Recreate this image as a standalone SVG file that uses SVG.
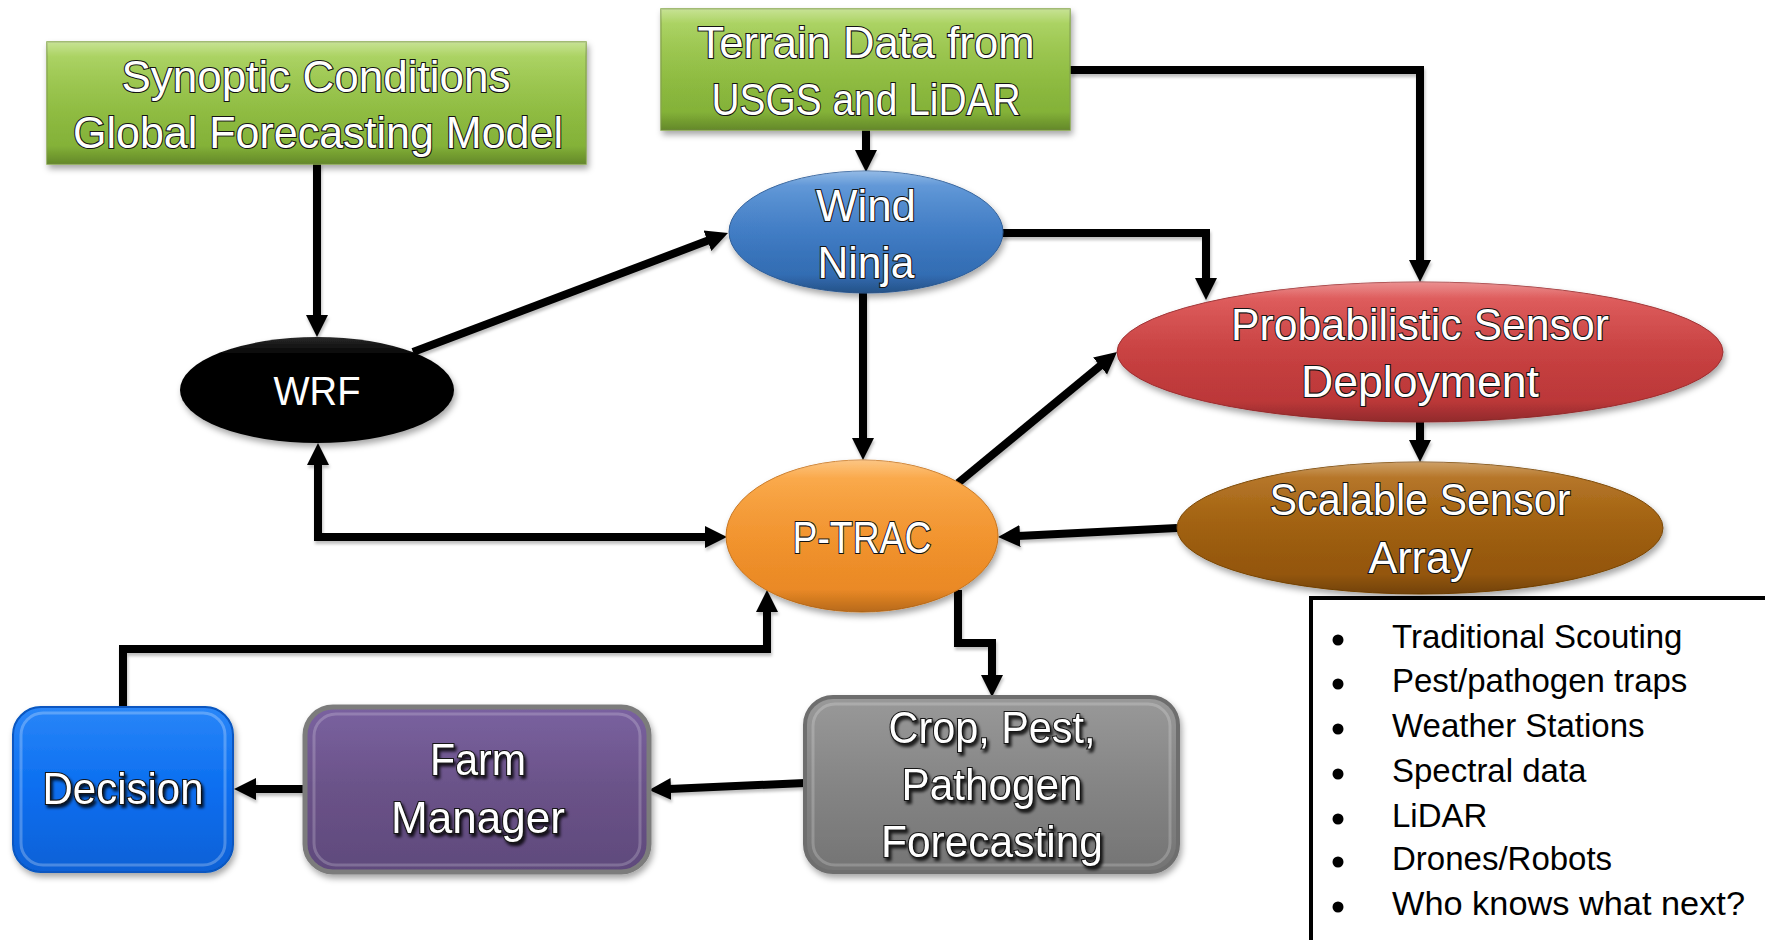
<svg xmlns="http://www.w3.org/2000/svg" width="1765" height="940" viewBox="0 0 1765 940">
  <defs>
    <style>
      .lbl { font-family: "Liberation Sans", Arial, sans-serif; font-size: 45px; fill: #ffffff; stroke: #141414; stroke-width: 2.2px; paint-order: stroke; text-anchor: middle; }
      .plain { font-family: "Liberation Sans", Arial, sans-serif; font-size: 41px; fill: #ffffff; text-anchor: middle; }
      .item { font-family: "Liberation Sans", Arial, sans-serif; font-size: 33px; fill: #000000; }
      .wire { fill: none; stroke: #000000; stroke-width: 8; stroke-linejoin: miter; stroke-linecap: butt; }
      .arrow { marker-end: url(#head); }
      .both { marker-start: url(#head); marker-end: url(#head); }
    </style>
    <marker id="head" markerUnits="userSpaceOnUse" markerWidth="24" markerHeight="24" viewBox="0 -12 24 24" refX="2" refY="0" orient="auto-start-reverse">
      <path d="M0,-11 L22,0 L0,11 z" fill="#000000"/>
    </marker>
    <filter id="shadow" x="-10%" y="-10%" width="125%" height="130%">
      <feDropShadow dx="2" dy="4" stdDeviation="3" flood-color="#000000" flood-opacity="0.35"/>
    </filter>
    <filter id="wireShadow" x="-5%" y="-5%" width="110%" height="115%">
      <feDropShadow dx="1" dy="3" stdDeviation="1.5" flood-color="#000000" flood-opacity="0.25"/>
    </filter>
    <filter id="textShadow" x="-10%" y="-20%" width="120%" height="150%">
      <feDropShadow dx="2" dy="3" stdDeviation="1.5" flood-color="#000000" flood-opacity="0.8"/>
    </filter>
    <linearGradient id="gGreen" x1="0" y1="0" x2="0" y2="1">
      <stop offset="0" stop-color="#a9d35b"/>
      <stop offset="0.5" stop-color="#94c244"/>
      <stop offset="1" stop-color="#7dab33"/>
    </linearGradient>
    <linearGradient id="gBlue" x1="0" y1="0" x2="0" y2="1">
      <stop offset="0" stop-color="#5a95d8"/>
      <stop offset="0.5" stop-color="#3f7dc8"/>
      <stop offset="1" stop-color="#2d66aa"/>
    </linearGradient>
    <linearGradient id="gBlack" x1="0" y1="0" x2="0" y2="1">
      <stop offset="0" stop-color="#2a2a2a"/>
      <stop offset="0.15" stop-color="#060606"/>
      <stop offset="1" stop-color="#000000"/>
    </linearGradient>
    <linearGradient id="gRed" x1="0" y1="0" x2="0" y2="1">
      <stop offset="0" stop-color="#e05454"/>
      <stop offset="0.5" stop-color="#cc4040"/>
      <stop offset="1" stop-color="#b53436"/>
    </linearGradient>
    <linearGradient id="gOrange" x1="0" y1="0" x2="0" y2="1">
      <stop offset="0" stop-color="#fba640"/>
      <stop offset="0.5" stop-color="#f7962d"/>
      <stop offset="1" stop-color="#e58422"/>
    </linearGradient>
    <linearGradient id="gBrown" x1="0" y1="0" x2="0" y2="1">
      <stop offset="0" stop-color="#b46e18"/>
      <stop offset="0.5" stop-color="#a2600c"/>
      <stop offset="1" stop-color="#8e5208"/>
    </linearGradient>
    <linearGradient id="gDecision" x1="0" y1="0" x2="0" y2="1">
      <stop offset="0" stop-color="#2a86f8"/>
      <stop offset="0.5" stop-color="#0a6ef0"/>
      <stop offset="1" stop-color="#0861d6"/>
    </linearGradient>
    <linearGradient id="gPurple" x1="0" y1="0" x2="0" y2="1">
      <stop offset="0" stop-color="#7a62a0"/>
      <stop offset="0.5" stop-color="#6a5288"/>
      <stop offset="1" stop-color="#5f4a7c"/>
    </linearGradient>
    <linearGradient id="gGrey" x1="0" y1="0" x2="0" y2="1">
      <stop offset="0" stop-color="#999999"/>
      <stop offset="0.5" stop-color="#858585"/>
      <stop offset="1" stop-color="#747474"/>
    </linearGradient>
    <linearGradient id="sheen" x1="0" y1="0" x2="0" y2="1">
      <stop offset="0" stop-color="#ffffff" stop-opacity="0.35"/>
      <stop offset="0.12" stop-color="#ffffff" stop-opacity="0.08"/>
      <stop offset="0.85" stop-color="#000000" stop-opacity="0"/>
      <stop offset="1" stop-color="#000000" stop-opacity="0.2"/>
    </linearGradient>
  </defs>

  <rect x="0" y="0" width="1765" height="940" fill="#ffffff"/>

  <!-- connectors -->
  <g id="connectors" filter="url(#wireShadow)">
    <path class="wire arrow" d="M317,163 V317"/>
    <path class="wire arrow" d="M866,130 V152"/>
    <path class="wire arrow" d="M1070,70 H1420 V262"/>
    <path class="wire arrow" d="M413,352 L709.3,240.1"/>
    <path class="wire arrow" d="M1002,233 H1206 V280"/>
    <path class="wire arrow" d="M863,293 V440"/>
    <path class="wire arrow" d="M958,483 L1101.6,364.7"/>
    <path class="wire arrow" d="M1420,422 V442"/>
    <path class="wire arrow" d="M1177,528 L1018,536"/>
    <path class="wire both" d="M318,463 V537 H707"/>
    <path class="wire arrow" d="M123,708 V649 H767 V610"/>
    <path class="wire arrow" d="M958,590 V643 H992 V677"/>
    <path class="wire arrow" d="M805,783 L669,789"/>
    <path class="wire arrow" d="M305,789 H254"/>
  </g>

  <!-- global model input -->
  <g id="synoptic">
    <rect x="47" y="42" width="539" height="122" fill="url(#gGreen)" stroke="#86a84a" stroke-width="1.5" filter="url(#shadow)"/>
    <rect x="47" y="42" width="539" height="122" fill="url(#sheen)"/>
    <text class="lbl" x="316" y="92" textLength="389" lengthAdjust="spacingAndGlyphs">Synoptic Conditions</text>
    <text class="lbl" x="318" y="148" textLength="490" lengthAdjust="spacingAndGlyphs">Global Forecasting Model</text>
  </g>

  <g id="terrain">
    <rect x="661" y="9" width="409" height="121" fill="url(#gGreen)" stroke="#86a84a" stroke-width="1.5" filter="url(#shadow)"/>
    <rect x="661" y="9" width="409" height="121" fill="url(#sheen)"/>
    <text class="lbl" x="866" y="58" textLength="337" lengthAdjust="spacingAndGlyphs">Terrain Data from</text>
    <text class="lbl" x="866" y="115" textLength="309" lengthAdjust="spacingAndGlyphs">USGS and LiDAR</text>
  </g>

  <g id="windninja">
    <ellipse cx="866" cy="232" rx="137" ry="61" fill="url(#gBlue)" stroke="#2f5f9a" stroke-width="1" filter="url(#shadow)"/>
    <ellipse cx="866" cy="232" rx="137" ry="61" fill="url(#sheen)"/>
    <text class="lbl" x="866" y="221" textLength="100" lengthAdjust="spacingAndGlyphs">Wind</text>
    <text class="lbl" x="866" y="278" textLength="97" lengthAdjust="spacingAndGlyphs">Ninja</text>
  </g>

  <g id="wrf">
    <ellipse cx="317" cy="390" rx="137" ry="53" fill="url(#gBlack)" filter="url(#shadow)"/>
    <text class="plain" x="317" y="405" textLength="87" lengthAdjust="spacingAndGlyphs">WRF</text>
  </g>

  <g id="probabilistic">
    <ellipse cx="1420" cy="352" rx="303" ry="70" fill="url(#gRed)" stroke="#9e2e30" stroke-width="1" filter="url(#shadow)"/>
    <ellipse cx="1420" cy="352" rx="303" ry="70" fill="url(#sheen)"/>
    <text class="lbl" x="1420" y="340" textLength="378" lengthAdjust="spacingAndGlyphs">Probabilistic Sensor</text>
    <text class="lbl" x="1420" y="397" textLength="238" lengthAdjust="spacingAndGlyphs">Deployment</text>
  </g>

  <g id="ptrac">
    <ellipse cx="862" cy="536" rx="136" ry="76" fill="url(#gOrange)" stroke="#c8741c" stroke-width="1" filter="url(#shadow)"/>
    <ellipse cx="862" cy="536" rx="136" ry="76" fill="url(#sheen)"/>
    <text class="lbl" x="862" y="553" textLength="139" lengthAdjust="spacingAndGlyphs">P-TRAC</text>
  </g>

  <g id="scalable">
    <ellipse cx="1420" cy="528" rx="243" ry="66" fill="url(#gBrown)" stroke="#7a4606" stroke-width="1" filter="url(#shadow)"/>
    <ellipse cx="1420" cy="528" rx="243" ry="66" fill="url(#sheen)"/>
    <text class="lbl" x="1420" y="515" textLength="301" lengthAdjust="spacingAndGlyphs">Scalable Sensor</text>
    <text class="lbl" x="1420" y="573" textLength="103" lengthAdjust="spacingAndGlyphs">Array</text>
  </g>

  <g id="decision">
    <rect x="13" y="707" width="220" height="165" rx="28" fill="url(#gDecision)" stroke="#0756c0" stroke-width="2" filter="url(#shadow)"/>
    <rect x="21" y="713" width="204" height="152" rx="22" fill="none" stroke="#ffffff" stroke-opacity="0.25" stroke-width="3"/>
    <text class="lbl" x="123" y="804" textLength="161" lengthAdjust="spacingAndGlyphs" filter="url(#textShadow)">Decision</text>
  </g>

  <g id="farmmanager">
    <rect x="305" y="707" width="344" height="165" rx="28" fill="url(#gPurple)" stroke="#7c7c7c" stroke-width="5" filter="url(#shadow)"/>
    <rect x="314" y="714" width="326" height="151" rx="22" fill="none" stroke="#ffffff" stroke-opacity="0.2" stroke-width="3"/>
    <text class="lbl" x="478" y="775" textLength="96" lengthAdjust="spacingAndGlyphs" filter="url(#textShadow)">Farm</text>
    <text class="lbl" x="478" y="833" textLength="174" lengthAdjust="spacingAndGlyphs" filter="url(#textShadow)">Manager</text>
  </g>

  <g id="forecasting">
    <rect x="805" y="697" width="373" height="175" rx="28" fill="url(#gGrey)" stroke="#6e6e6e" stroke-width="4" filter="url(#shadow)"/>
    <rect x="813" y="704" width="357" height="161" rx="22" fill="none" stroke="#ffffff" stroke-opacity="0.2" stroke-width="3"/>
    <text class="lbl" x="992" y="743" textLength="207" lengthAdjust="spacingAndGlyphs" filter="url(#textShadow)">Crop, Pest,</text>
    <text class="lbl" x="992" y="800" textLength="181" lengthAdjust="spacingAndGlyphs" filter="url(#textShadow)">Pathogen</text>
    <text class="lbl" x="992" y="857" textLength="222" lengthAdjust="spacingAndGlyphs" filter="url(#textShadow)">Forecasting</text>
  </g>

  <!-- list of sensing sources -->
  <g id="sources">
    <rect x="1311" y="598" width="500" height="400" fill="#ffffff" stroke="#000000" stroke-width="4"/>
    <circle cx="1338" cy="640" r="5.5"/>
    <circle cx="1338" cy="684" r="5.5"/>
    <circle cx="1338" cy="729" r="5.5"/>
    <circle cx="1338" cy="774" r="5.5"/>
    <circle cx="1338" cy="819" r="5.5"/>
    <circle cx="1338" cy="862" r="5.5"/>
    <circle cx="1338" cy="907" r="5.5"/>
    <text class="item" x="1392" y="648">Traditional Scouting</text>
    <text class="item" x="1392" y="692">Pest/pathogen traps</text>
    <text class="item" x="1392" y="737">Weather Stations</text>
    <text class="item" x="1392" y="782">Spectral data</text>
    <text class="item" x="1392" y="827">LiDAR</text>
    <text class="item" x="1392" y="870">Drones/Robots</text>
    <text class="item" x="1392" y="915" textLength="353" lengthAdjust="spacingAndGlyphs">Who knows what next?</text>
  </g>
</svg>
